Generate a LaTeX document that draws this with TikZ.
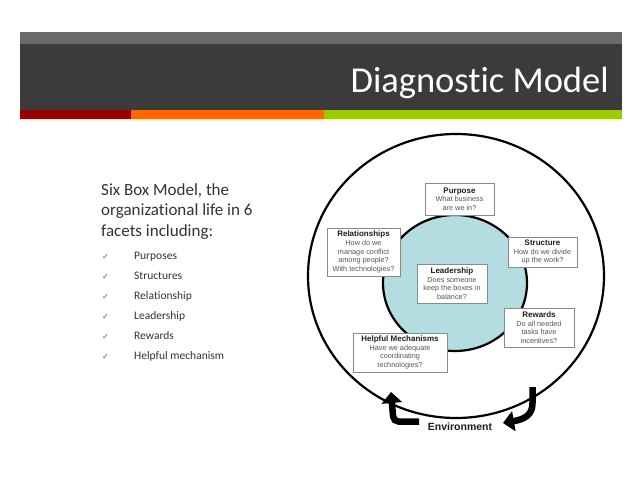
\documentclass[tikz,border=0pt]{standalone}
\usepackage{fontspec}
\setmainfont{Carlito}[Ligatures={NoCommon,NoContextual}]
\newfontfamily\arialf{Liberation Sans}
\newfontfamily\dejavu{DejaVu Sans}
\usetikzlibrary{arrows.meta,shadows}
\definecolor{hdrgray}{HTML}{6A6A6A}
\definecolor{hdrdark}{HTML}{3B3B3B}
\definecolor{stripred}{HTML}{990000}
\definecolor{stripora}{HTML}{FF6600}
\definecolor{stripgrn}{HTML}{99CC00}
\definecolor{teal}{HTML}{B3DDE0}
\definecolor{bodytxt}{HTML}{333333}
\definecolor{boxtxt}{HTML}{555555}
\definecolor{boxtitle}{HTML}{1E1E1E}
\definecolor{boxline}{HTML}{8A8A8A}
\newcommand\btitle[1]{{\fontsize{8}{8.6}\selectfont\bfseries\color{boxtitle}#1}}
\begin{document}
\begin{tikzpicture}[x=1pt,y=-1pt,
  facet/.style={draw=boxline, fill=white, line width=0.8pt, inner sep=0pt, align=center,
    font=\arialf\fontsize{7.3}{8.6}\selectfont, text=boxtxt,
    drop shadow={opacity=0.25, shadow xshift=1pt, shadow yshift=-1pt}},
  lefttxt/.style={anchor=base west, inner sep=0pt, text=bodytxt, font=\fontsize{17}{20}\selectfont},
  item/.style={anchor=base west, inner sep=0pt, text=bodytxt, font=\fontsize{11.5}{13}\selectfont},
  tick/.style={anchor=base west, inner sep=0pt, text=bodytxt!80, font=\dejavu\fontsize{8}{9}\selectfont},
  bigarrow/.style={line width=6.5pt, -{Triangle[length=11pt,width=20pt]}, black}
]
\useasboundingbox (0,0) rectangle (638,479);
\fill[white] (0,0) rectangle (638,479);
% header
\fill[hdrgray] (20,32) rectangle (622,44);
\fill[hdrdark] (20,44) rectangle (622,110);
\fill[stripred] (20,110) rectangle (131,119);
\fill[stripora] (131,110) rectangle (324,119);
\fill[stripgrn] (324,110) rectangle (622,119);
\node[anchor=base east, inner sep=0pt, text=white, font=\fontsize{36.5}{40}\selectfont] (title) at (609,92) {Diagnostic Model};
% left text
\node[lefttxt] (l1) at (101,195) {Six Box Model, the};
\node[lefttxt] (l2) at (101,215.5) {organizational life in 6};
\node[lefttxt] (l3) at (101,236) {facets including:};
\foreach \t [count=\i] in {Purposes,Structures,Relationship,Leadership,Rewards,Helpful mechanism}{
  \node[tick] (c\i) at (102,{259+20*(\i-1)}) {✓};
  \node[item] (i\i) at (134,{259+20*(\i-1)}) {\t};
}
% circles
\draw[line width=2.2pt] (456,276) ellipse [x radius=148, y radius=142];
\draw[line width=2.2pt, fill=teal] (455,283) ellipse [x radius=72, y radius=68];
% boxes
\node[facet, minimum width=69, minimum height=32] (purpose) at (459.5,199)
  {\btitle{Purpose}\\What business\\are we in?};
\node[facet, minimum width=73, minimum height=48] (relations) at (363.5,252)
  {\btitle{Relationships}\\How do we\\manage conflict\\among people?\\With technologies?};
\node[facet, minimum width=69, minimum height=30] (structure) at (542.5,252)
  {\btitle{Structure}\\How do we divide\\up the work?};
\node[facet, minimum width=70, minimum height=39] (leader) at (452,283.5)
  {\btitle{Leadership}\\Does someone\\keep the boxes in\\balance?};
\node[facet, minimum width=70, minimum height=39] (rewards) at (539,327.5)
  {\btitle{Rewards}\\Do all needed\\tasks have\\incentives?};
\node[facet, minimum width=94, minimum height=39] (helpful) at (400,352.5)
  {\btitle{Helpful Mechanisms}\\Have we adequate\\coordinating\\technologies?};
% environment
\node[inner sep=0pt, font=\arialf\bfseries\fontsize{10.5}{12}\selectfont, text=boxtitle] (env) at (460,427) {Environment};
\coordinate (la) at (419,421.5);
\coordinate (lt) at (391,392);
\coordinate (ra) at (532.5,387);
\coordinate (rt) at (503,423);
\draw[bigarrow, rounded corners=5pt] (la) -- (393.5,421.5) -- (lt);
\draw[bigarrow] (ra) -- (532.5,403) .. controls (532.5,414) and (526,419) .. (rt);
\end{tikzpicture}
\end{document}
